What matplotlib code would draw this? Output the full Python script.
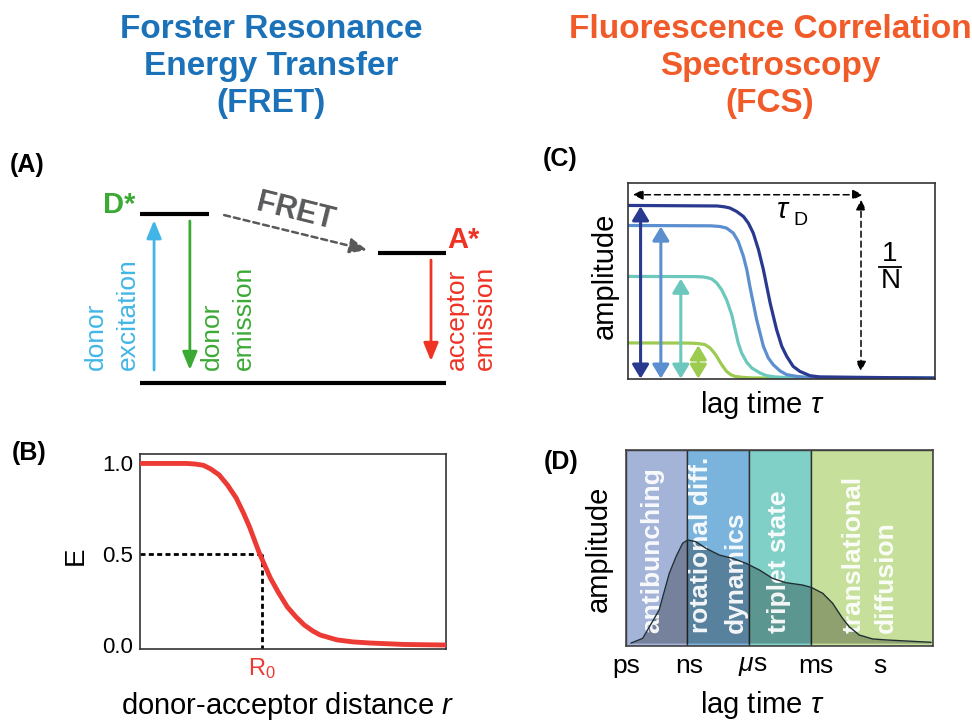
import matplotlib
matplotlib.use('Agg')
import matplotlib.pyplot as plt
from matplotlib.patches import ArrowStyle

plt.rcParams['font.family'] = ['Liberation Sans', 'DejaVu Sans']
plt.rcParams['mathtext.fontset'] = 'custom'
plt.rcParams['mathtext.rm'] = 'Liberation Sans'
plt.rcParams['mathtext.it'] = 'Liberation Sans:italic'
plt.rcParams['mathtext.bf'] = 'Liberation Sans:bold'

# ---------------- data ----------------
fret_title = ['Forster Resonance', 'Energy Transfer', '(FRET)']
fcs_title = ['Fluorescence Correlation', 'Spectroscopy', '(FCS)']
title_baselines = [38, 75, 112]

# Panel A: energy levels (energy in units of donor excited state)
level_names = ['ground', 'D*', 'A*']
level_energy = [0.0, 1.0, 0.77]
level_x0 = [0.0, 0.0, 7.78]
level_x1 = [10.0, 2.25, 10.0]
transition_x = [0.46, 1.63, 9.51]
transition_from = [0.077, 0.959, 0.728]
transition_to = [0.964, 0.077, 0.130]
transition_colors = ['#41b6e6', '#3aaa35', '#ee3224']
transition_labels = [['donor', 'excitation'], ['donor', 'emission'], ['acceptor', 'emission']]
transition_label_x = [[-1.44, -0.39], [2.35, 3.40], [10.36, 11.27]]
fret_from = (2.75, 0.994)
fret_to = (7.42, 0.787)

# Panel B: FRET efficiency vs distance (r in units of R0)
fret_r = [0.0, 0.38, 0.45, 0.52, 0.58, 0.65, 0.72, 0.79, 0.85, 0.90, 0.98, 1.07,
          1.14, 1.21, 1.28, 1.35, 1.42, 1.48, 1.62, 1.75, 1.89, 2.17, 2.51]
fret_E = [1.0, 1.0, 0.997, 0.99, 0.97, 0.937, 0.88, 0.81, 0.727, 0.65, 0.507, 0.37,
          0.286, 0.21, 0.156, 0.11, 0.077, 0.055, 0.028, 0.017, 0.011, 0.003, 0.0]
R0 = 1.0

# Panel C: FCS curves (log lag time, arbitrary units)
fcs_colors = ['#9ccb50', '#6cc7bd', '#5b8fd0', '#2a3990']
fcs_x = [
    [0, 2.0, 2.24, 2.38, 2.51, 2.67, 2.78, 2.89, 3.05, 3.21, 3.35, 3.49, 3.75, 4.08, 10],
    [0, 2.2, 2.45, 2.6, 2.73, 2.89, 3.05, 3.21, 3.38, 3.49, 3.59, 3.70, 3.87, 4.03, 4.30,
     4.52, 4.8, 5.17, 10],
    [0, 2.7, 2.85, 3.0, 3.21, 3.43, 3.59, 3.76, 3.87, 3.97, 4.19, 4.41, 4.57, 4.73, 4.95,
     5.17, 5.5, 5.82, 10],
    [0, 2.9, 3.1, 3.2, 3.32, 3.54, 3.76, 3.92, 4.08, 4.25, 4.41, 4.63, 4.84, 5.01, 5.17,
     5.38, 5.60, 5.93, 6.25, 10],
]
fcs_y = [
    [0.204, 0.203, 0.201, 0.198, 0.194, 0.175, 0.153, 0.126, 0.078, 0.039, 0.020, 0.010,
     0.004, 0.001, 0.0],
    [0.589, 0.588, 0.586, 0.581, 0.574, 0.551, 0.512, 0.454, 0.367, 0.281, 0.204, 0.146,
     0.091, 0.059, 0.030, 0.014, 0.007, 0.003, 0.0],
    [0.884, 0.882, 0.880, 0.878, 0.869, 0.840, 0.792, 0.705, 0.628, 0.531, 0.339, 0.184,
     0.117, 0.078, 0.042, 0.020, 0.010, 0.005, 0.0],
    [1.0, 0.997, 0.993, 0.990, 0.985, 0.965, 0.936, 0.898, 0.840, 0.744, 0.628, 0.435,
     0.281, 0.184, 0.126, 0.068, 0.039, 0.014, 0.007, 0.0],
]
amp_arrow_x = [2.29, 1.72, 1.07, 0.41]
amp_arrow_top = [0.19, 0.576, 0.878, 0.995]
amp_arrow_bottom = -0.003
tauD_y = 1.062
tauD_x = (0.16, 7.65)
invN_x = 7.59
invN_y = (1.033, 0.039)

# Panel D: correlation timescales (log10 lag time / s)
band_edges = [-12, -9.10, -6.19, -3.23, 2.53]
band_colors = ['#a4b4d8', '#7ab4dc', '#80d0c8', '#c6e09b']
band_texts = ['antibunching', 'rotational diff.', 'dynamics', 'triplet state', 'translational', 'diffusion']
band_text_x = [-10.74, -8.45, -6.80, -4.78, -1.21, 0.30]
time_ticks = [-12, -9, -6, -3, 0]
time_labels = ['ps', 'ns', r'$\mu$s', 'ms', 's']
d_logtau = [-11.76, -11.21, -10.43, -9.95, -9.63, -9.32, -9.08, -8.69, -8.21, -7.58, -6.95,
            -6.32, -5.69, -5.06, -4.43, -3.64, -3.23, -2.69, -2.22, -1.75, -1.43, -0.96,
            -0.33, 0.30, 1.88, 2.43]
d_amp = [0.015, 0.039, 0.184, 0.371, 0.456, 0.524, 0.541, 0.532, 0.498, 0.464, 0.447,
         0.422, 0.388, 0.345, 0.323, 0.311, 0.299, 0.269, 0.218, 0.141, 0.098, 0.056,
         0.036, 0.031, 0.022, 0.019]
d_base = 0.015

# ---------------- figure ----------------
W, H = 972, 723
fig = plt.figure(figsize=(W / 100, H / 100), dpi=100)


def fx(px):
    return px / W


def fy(py):
    return 1 - py / H


def add_ax(l, t, r, b):
    return fig.add_axes([l / W, 1 - b / H, (r - l) / W, (b - t) / H])


BLUE_T = '#1b72b9'
ORANGE_T = '#f15a29'
for i, (a, b) in enumerate(zip(fret_title, fcs_title)):
    fig.text(fx(271), fy(title_baselines[i]), a, ha='center', va='baseline',
             fontsize=24, fontweight='bold', color=BLUE_T)
    fig.text(fx(770), fy(title_baselines[i]), b, ha='center', va='baseline',
             fontsize=24, fontweight='bold', color=ORANGE_T)

for lab, (px, py) in zip(['(A)', '(B)', '(C)', '(D)'],
                         [(27, 165), (29, 453), (560, 159), (561, 462)]):
    fig.text(fx(px), fy(py), lab, ha='center', va='center', fontsize=18, fontweight='bold')

# ---------------- Panel A ----------------
axA = add_ax(60, 185, 500, 395)
axA.set_xlim(-2.614, 11.765)
axA.set_ylim(-0.071, 1.172)
axA.axis('off')
for e, x0, x1 in zip(level_energy, level_x0, level_x1):
    axA.plot([x0, x1], [e, e], color='black', lw=3, solid_capstyle='butt')
head = ArrowStyle('-|>', head_length=0.78, head_width=0.32)
for x, e0, e1, c, labs, lxs in zip(transition_x, transition_from, transition_to,
                                   transition_colors, transition_labels, transition_label_x):
    axA.annotate('', xy=(x, e1), xytext=(x, e0),
                 arrowprops=dict(arrowstyle=head, color=c, lw=2, shrinkA=0, shrinkB=0,
                                 mutation_scale=14))
    for lab, lx in zip(labs, lxs):
        axA.text(lx, 0.077, lab, rotation=90, ha='center', va='bottom', fontsize=19, color=c)
axA.annotate('', xy=fret_to, xytext=fret_from,
             arrowprops=dict(arrowstyle=ArrowStyle('-|>', head_length=0.8, head_width=0.35),
                             color='#58595b', lw=1.8, linestyle=(0, (2.4, 1.6)),
                             shrinkA=0, shrinkB=0, mutation_scale=13))
axA.text(5.10, 1.012, 'FRET', rotation=-14, rotation_mode='anchor', ha='center', va='center',
         fontsize=22, fontweight='bold', color='#58595b')
axA.text(-0.69, 1.053, 'D*', ha='center', va='center', fontsize=21, fontweight='bold', color='#3aaa35')
axA.text(10.56, 0.846, 'A*', ha='center', va='center', fontsize=21, fontweight='bold', color='#ee3224')

# ---------------- Panel B ----------------
axB = add_ax(140, 454, 446, 649)
axB.plot(fret_r, fret_E, color='#ec3a35', lw=3.5, solid_capstyle='round',
         solid_joinstyle='round', zorder=3)
axB.plot([0, R0], [0.5, 0.5], color='black', lw=2, linestyle=(0, (1.8, 1.2)), zorder=2)
axB.plot([R0, R0], [-0.03, 0.5], color='black', lw=2, linestyle=(0, (1.8, 1.2)), zorder=2)
axB.set_xlim(0, 2.514)
axB.set_ylim(-0.022, 1.052)
axB.set_yticks([0.0, 0.5, 1.0])
axB.set_yticklabels(['0.0', '0.5', '1.0'], fontsize=16)
axB.set_xticks([R0])
axB.set_xticklabels([r'$\mathrm{R_0}$'], fontsize=17, color='#ec3a35')
axB.tick_params(axis='both', length=0)
axB.tick_params(axis='y', pad=5)
axB.tick_params(axis='x', pad=5)
for s in axB.spines.values():
    s.set_linewidth(1.2)
    s.set_color('#333333')
fig.text(fx(76), fy(556), 'E', rotation=90, ha='center', va='center', fontsize=20)
fig.text(fx(288), fy(706), r'donor-acceptor distance $r$', ha='center', va='center', fontsize=21)

# ---------------- Panel C ----------------
axC = add_ax(628, 183, 935, 379)
for xs, ys, c in zip(fcs_x, fcs_y, fcs_colors):
    axC.plot(xs, ys, color=c, lw=2.3, solid_capstyle='round', solid_joinstyle='round')
dbl = ArrowStyle('<|-|>', head_length=0.7, head_width=0.42)
for x, top, c in zip(amp_arrow_x, amp_arrow_top, fcs_colors):
    axC.annotate('', xy=(x, top), xytext=(x, amp_arrow_bottom),
                 arrowprops=dict(arrowstyle=dbl, color=c, lw=2.2, shrinkA=0, shrinkB=0,
                                 mutation_scale=12))
small = ArrowStyle('<|-|>', head_length=0.6, head_width=0.3)
axC.annotate('', xy=(tauD_x[1], tauD_y), xytext=(tauD_x[0], tauD_y),
             arrowprops=dict(arrowstyle=small, color='black', lw=1.1, linestyle=(0, (3.9, 2.6)),
                             shrinkA=0, shrinkB=0, mutation_scale=10))
axC.annotate('', xy=(invN_x, invN_y[1]), xytext=(invN_x, invN_y[0]),
             arrowprops=dict(arrowstyle=small, color='black', lw=1.1, linestyle=(0, (3.9, 2.6)),
                             shrinkA=0, shrinkB=0, mutation_scale=10))
axC.text(5.05, 0.975, r'$\tau$', ha='center', va='center', fontsize=21)
axC.text(5.62, 0.915, 'D', ha='center', va='center', fontsize=14)
axC.text(8.52, 0.718, '1', ha='center', va='center', fontsize=20)
axC.plot([8.18, 8.89], [0.645, 0.645], color='black', lw=1.3)
axC.text(8.55, 0.565, 'N', ha='center', va='center', fontsize=20)
axC.set_xlim(0, 10)
axC.set_ylim(-0.005, 1.13)
axC.set_xticks([])
axC.set_yticks([])
for s in axC.spines.values():
    s.set_linewidth(1.2)
    s.set_color('#333333')
fig.text(fx(605), fy(276), 'amplitude', rotation=90, ha='center', va='center', fontsize=21)
fig.text(fx(762), fy(405), r'lag time $\tau$', ha='center', va='center', fontsize=21)

# ---------------- Panel D ----------------
axD = add_ax(626, 450, 933, 646)
for x0, x1, c in zip(band_edges[:-1], band_edges[1:], band_colors):
    axD.axvspan(x0, x1, facecolor=c, edgecolor='#2f2f2f', lw=1, zorder=0)
axD.fill_between(d_logtau, d_amp, d_base, color='black', alpha=0.28, lw=0, zorder=2)
for t, x in zip(band_texts, band_text_x):
    axD.text(x, 0.066, t, rotation=90, ha='center', va='bottom', fontsize=19,
             fontweight='bold', color='white', alpha=0.93, zorder=3)
axD.plot(d_logtau, d_amp, color='#1f2f33', lw=1, zorder=4)
axD.set_xlim(band_edges[0], band_edges[-1])
axD.set_ylim(0, 1)
axD.set_yticks([])
axD.set_xticks(time_ticks)
axD.set_xticklabels(time_labels, fontsize=19)
axD.tick_params(axis='x', length=0, pad=6)
for s in axD.spines.values():
    s.set_linewidth(1.2)
    s.set_color('#444444')
fig.text(fx(599), fy(549), 'amplitude', rotation=90, ha='center', va='center', fontsize=21)
fig.text(fx(762), fy(705), r'lag time $\tau$', ha='center', va='center', fontsize=21)

fig.savefig('out.png', dpi=100)
